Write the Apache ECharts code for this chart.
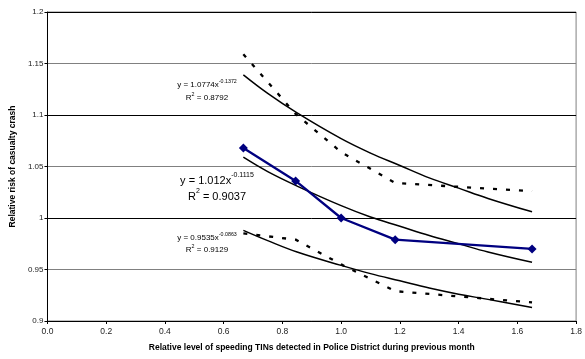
<!DOCTYPE html>
<html>
<head>
<meta charset="utf-8">
<script src="https://cdn.jsdelivr.net/npm/echarts@6/dist/echarts.min.js"></script>
<style>
html,body{margin:0;padding:0;background:#fff;}
#c{width:585px;height:359px;}
</style>
</head>
<body>
<div id="c"></div>
<script>
// Observed points (x = relative level of speeding TINs)
var xPts = [0.667, 0.845, 1.0, 1.184, 1.65];
var blueVals = [1.068, 1.036, 1.0, 0.979, 0.970];
var upperDotVals = [1.159, 1.101, 1.064, 1.034, 1.026];
var lowerDotVals = [0.985, 0.979, 0.955, 0.929, 0.918];

// Power trendlines
var trendX = [0.667, 0.75, 0.85, 1.0, 1.1, 1.2, 1.3, 1.4, 1.5, 1.65];
var upperTrend = [1.139, 1.121, 1.102, 1.077, 1.063, 1.051, 1.039, 1.029, 1.019, 1.006];
var midTrend = [1.059, 1.045, 1.031, 1.012, 1.001, 0.992, 0.983, 0.975, 0.967, 0.957];
var lowerTrend = [0.988, 0.978, 0.967, 0.954, 0.946, 0.939, 0.932, 0.926, 0.921, 0.913];

var xTicks = [0, 0.2, 0.4, 0.6, 0.8, 1.0, 1.2, 1.4, 1.6, 1.8];
var yTicks = [0.9, 0.95, 1, 1.05, 1.1, 1.15, 1.2];

function pairs(xs, ys){ return xs.map(function(x,i){ return [x, ys[i]]; }); }

var FONT = 'Liberation Sans, Arial, sans-serif';
var chart = echarts.init(document.getElementById('c'), null, {renderer:'canvas'});

function richStyles(size, supSize){
  var lh = Math.round(size * 1.25);
  return {
    a:{fontSize:size, fontFamily:FONT, fill:'#000', lineHeight:lh, verticalAlign:'bottom'},
    s:{fontSize:supSize, fontFamily:FONT, fill:'#000', lineHeight:lh, verticalAlign:'top'}
  };
}
function eqText(x, y, base, sup, size, supSize){
  return {
    type:'text', x: x, y: y,
    style:{
      text: '{a|' + base + '}{s|' + sup + '}',
      align:'center', verticalAlign:'middle',
      rich: richStyles(size, supSize)
    }
  };
}
function rText(x, y, val, size, supSize){
  return {
    type:'text', x:x, y:y,
    style:{
      text:'{a|R}{s|2}{a| = ' + val + '}',
      align:'center', verticalAlign:'middle',
      rich: richStyles(size, supSize)
    }
  };
}

var option = {
  animation:false,
  backgroundColor:'#fff',
  grid:{left:46, right:4, top:12, bottom:38, show:true, borderColor:'#808080', borderWidth:1},
  xAxis:{
    type:'value', min:0, max:1.8, interval:0.2,
    name:'Relative level of speeding TINs detected in Police District during previous month',
    nameLocation:'middle', nameGap:22,
    nameTextStyle:{fontFamily:FONT, fontSize:8.5, fontWeight:'bold', color:'#000'},
    axisLine:{show:true, lineStyle:{color:'#000', width:1}},
    axisTick:{show:true, length:3, lineStyle:{color:'#000'}},
    axisLabel:{fontFamily:FONT, fontSize:8.5, color:'#222', margin:6,
      formatter:function(v){ return v.toFixed(1); }},
    splitLine:{show:false}
  },
  yAxis:{
    type:'value', min:0.9, max:1.2, interval:0.05,
    name:'Relative risk of casualty crash',
    nameLocation:'middle', nameGap:28, nameRotate:90,
    nameTextStyle:{fontFamily:FONT, fontSize:8.5, fontWeight:'bold', color:'#000'},
    axisLine:{show:true, lineStyle:{color:'#000', width:1}},
    axisTick:{show:true, length:3, lineStyle:{color:'#000'}},
    axisLabel:{fontFamily:FONT, fontSize:8, color:'#222', margin:4,
      formatter:function(v){ return String(+v.toFixed(2)); }},
    splitLine:{show:true, lineStyle:{color:['#000','#808080'], width:1}}
  },
  series:[
    {type:'line', data:pairs(trendX, upperTrend), smooth:0.4, showSymbol:false, symbol:'none',
      lineStyle:{color:'#000', width:1.5}, z:3},
    {type:'line', data:pairs(trendX, midTrend), smooth:0.4, showSymbol:false, symbol:'none',
      lineStyle:{color:'#000', width:1.5}, z:3},
    {type:'line', data:pairs(trendX, lowerTrend), smooth:0.4, showSymbol:false, symbol:'none',
      lineStyle:{color:'#000', width:1.5}, z:3},
    {type:'line', data:pairs(xPts, upperDotVals), symbol:'none',
      lineStyle:{color:'#000', width:2.3, type:[4,9]}, z:2},
    {type:'line', data:pairs(xPts, lowerDotVals), symbol:'none',
      lineStyle:{color:'#000', width:2.3, type:[4,9]}, z:2},
    {type:'line', data:pairs(xPts, blueVals), symbol:'diamond', symbolSize:9,
      itemStyle:{color:'#000080'}, lineStyle:{color:'#000080', width:2.3}, z:4}
  ],
  graphic:[
    eqText(207, 84, 'y = 1.0774x', '-0.1372', 8, 5.3),
    rText(207, 97, '0.8792', 8, 5.3),
    eqText(217, 179, 'y = 1.012x', '-0.1115', 11, 7),
    rText(217, 195, '0.9037', 11, 7),
    eqText(207, 237, 'y = 0.9535x', '-0.0863', 8, 5.3),
    rText(207, 249, '0.9129', 8, 5.3)
  ]
};
chart.setOption(option);
</script>
</body>
</html>
